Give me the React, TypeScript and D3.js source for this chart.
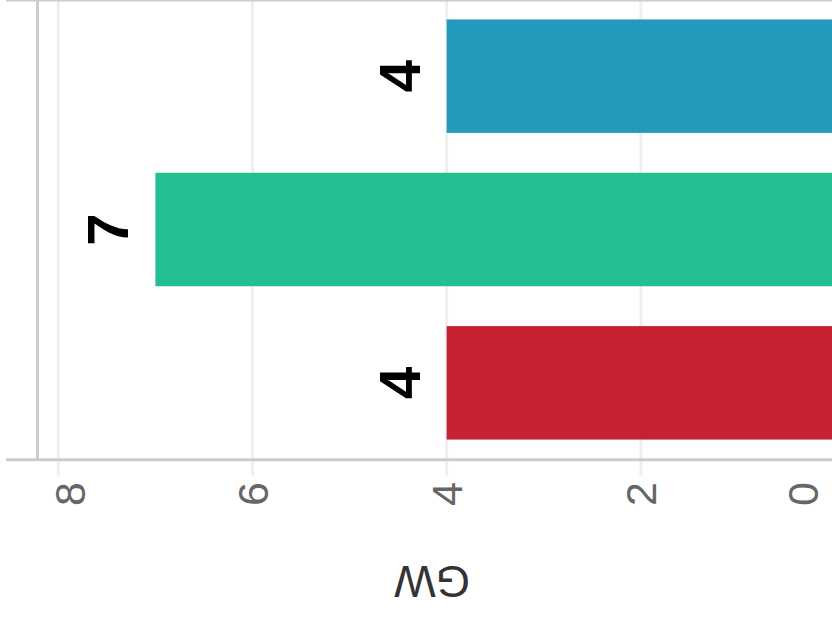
import React from "react";
import * as d3 from "d3";

const categories = ["A", "B", "C"];
const values = [4, 7, 4];
const colors = ["#2399bb", "#21bf92", "#c52131"];
const tickValues = [0, 2, 4, 6, 8];
const axisTitle = "GW";

const W = 832;
const H = 618;

export default function App() {
  const x = d3.scaleLinear().domain([0, 8]).range([835, 58.3]);
  const y = d3
    .scaleBand<string>()
    .domain(categories)
    .range([-0.5, 459.5])
    .paddingInner(0.26)
    .paddingOuter(0.13);

  const axisY = 459.7;
  const tickFont = 43;
  const cap = tickFont * 0.716;
  const labelMin = 54;
  const labelMax = 818;
  const valueFont = 58;

  return (
    <svg
      width={W}
      height={H}
      style={{ position: "absolute", left: 0, top: 0, background: "#fff" }}
      fontFamily="'Liberation Sans', Arial, sans-serif"
    >
      <rect width={W} height={H} fill="#fff" />
      {/* gridlines */}
      {tickValues.map((t) => (
        <line
          key={"g" + t}
          x1={x(t)}
          x2={x(t)}
          y1={0}
          y2={475.7}
          stroke="#efefef"
          strokeWidth={3}
        />
      ))}
      {/* frame lines */}
      <line x1={6} x2={W + 10} y1={0} y2={0} stroke="#cccccc" strokeWidth={3} />
      <line x1={6} x2={W + 10} y1={axisY} y2={axisY} stroke="#cccccc" strokeWidth={3} />
      <line x1={37.5} x2={37.5} y1={0} y2={axisY} stroke="#cccccc" strokeWidth={3} />
      {/* bars */}
      {categories.map((c, i) => (
        <rect
          key={c}
          x={x(values[i])}
          y={y(c)!}
          width={x(0) - x(values[i])}
          height={y.bandwidth()}
          fill={colors[i]}
        />
      ))}
      {/* value labels */}
      {categories.map((c, i) => {
        const lx = x(values[i]) - 27;
        const ly = y(c)! + y.bandwidth() / 2;
        return (
          <text
            key={"v" + c}
            transform={`translate(${lx},${ly}) rotate(-90)`}
            textAnchor="middle"
            fontSize={valueFont}
            fontWeight="bold"
            fill="#000"
          >
            {values[i]}
          </text>
        );
      })}
      {/* tick labels */}
      {tickValues.map((t) => {
        const c = Math.max(labelMin + cap / 2, Math.min(labelMax - cap / 2, x(t)));
        return (
          <text
            key={"t" + t}
            transform={`translate(${c + cap / 2},482) rotate(-90)`}
            textAnchor="end"
            fontSize={tickFont}
            fill="#666666"
          >
            {t}
          </text>
        );
      })}
      {/* axis title */}
      <text
        transform={`translate(432,566) rotate(180)`}
        textAnchor="middle"
        fontSize={44}
        fill="#333333"
      >
        {axisTitle}
      </text>
    </svg>
  );
}
